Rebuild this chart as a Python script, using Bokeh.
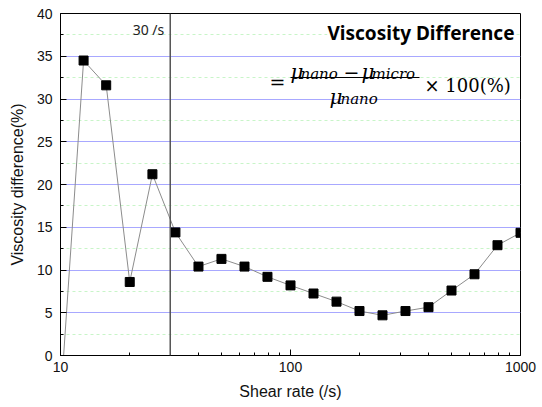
from bokeh.plotting import figure
from bokeh.models import FixedTicker, Span, Label, PrintfTickFormatter
from bokeh.embed import file_html
from bokeh.resources import INLINE

# ---- data ----
shear_rate = [10.0, 12.6, 15.8, 20.0, 25.1, 31.6, 39.8, 50.1, 63.1, 79.4, 100.0,
              125.9, 158.5, 199.5, 251.2, 316.2, 398.1, 501.2, 631.0, 794.3, 1000.0]
viscosity_diff = [-5.4, 34.5, 31.6, 8.6, 21.2, 14.4, 10.4, 11.3, 10.4, 9.2, 8.2,
                  7.25, 6.3, 5.2, 4.7, 5.2, 5.65, 7.6, 9.5, 12.9, 14.35]
x_major_ticks = [10, 100, 1000]
x_minor_ticks = [20, 30, 40, 50, 60, 70, 80, 90, 200, 300, 400, 500, 600, 700, 800, 900]
y_major_ticks = [0, 5, 10, 15, 20, 25, 30, 35, 40]
y_minor_ticks = [2.5, 7.5, 12.5, 17.5, 22.5, 27.5, 32.5, 37.5]
marker_rate = 30

p = figure(x_axis_type="log", x_range=(10, 1000), y_range=(0, 40),
           frame_width=460, frame_height=342,
           min_border_left=60, min_border_right=22, min_border_top=13, min_border_bottom=52,
           output_backend="svg", toolbar_location=None)
p.background_fill_color = "white"
p.border_fill_color = "white"
p.outline_line_color = "black"
p.outline_line_width = 1
p.outline_line_alpha = 1

# grids
p.xgrid.visible = False
p.ygrid.ticker = FixedTicker(ticks=y_major_ticks, minor_ticks=y_minor_ticks)
p.ygrid.grid_line_color = "#a8a8ff"
p.ygrid.grid_line_width = 1
p.ygrid.minor_grid_line_color = "#c8f5c8"
p.ygrid.minor_grid_line_dash = "3 3"
p.ygrid.minor_grid_line_width = 1

# axes
xa = p.xaxis[0]
xa.ticker = FixedTicker(ticks=x_major_ticks, minor_ticks=x_minor_ticks)
xa.formatter = PrintfTickFormatter(format="%d")
ya = p.yaxis[0]
ya.ticker = FixedTicker(ticks=y_major_ticks, minor_ticks=y_minor_ticks)
for ax in (xa, ya):
    ax.axis_line_color = "black"
    ax.major_tick_line_color = "black"
    ax.minor_tick_line_color = "black"
    ax.major_tick_in = 6
    ax.major_tick_out = 0
    ax.minor_tick_in = 3
    ax.minor_tick_out = 0
    ax.major_label_text_font = "Liberation Sans"
    ax.major_label_text_font_size = "14px"
    ax.major_label_text_color = "#111111"
    ax.axis_label_text_font = "Liberation Sans"
    ax.axis_label_text_font_size = "16px"
    ax.axis_label_text_font_style = "normal"
    ax.axis_label_text_color = "#111111"
xa.axis_label = "Shear rate (/s)"
ya.axis_label = "Viscosity difference(%)"
xa.major_label_standoff = 6
xa.axis_label_standoff = 8
ya.major_label_standoff = 8
ya.axis_label_standoff = 8

# series
p.line(shear_rate, viscosity_diff, line_color="#8c8c8c", line_width=1)
p.scatter(shear_rate, viscosity_diff, marker="square", size=9,
          fill_color="black", line_color="black")

# 30 /s reference line
p.add_layout(Span(location=marker_rate, dimension="height",
                  line_color="#555555", line_width=1.5))


def sx2x(sx):
    return 10 ** (1 + (sx - 60) / 230)


def sy2y(sy):
    return (355 - sy) / 8.55


p.add_layout(Label(x=marker_rate, y=sy2y(29), x_offset=-6, text="30 /s",
                   text_align="right", text_baseline="middle",
                   text_font="Noto Sans", text_font_size="14px", text_color="#222222"))

p.add_layout(Label(x=sx2x(514), y=sy2y(32), text="Viscosity Difference",
                   text_align="right", text_baseline="middle",
                   text_font="Noto Sans", text_font_style="bold", text_font_size="19px",
                   text_color="black", background_fill_color="white"))

mf = "DejaVu Serif"


def math_label(sx, sy, txt, size, italic=True, align="left"):
    p.add_layout(Label(x=sx2x(sx), y=sy2y(sy), text=txt, text_align=align,
                       text_baseline="alphabetic", text_font=mf,
                       text_font_style="italic" if italic else "normal",
                       text_font_size=size, text_color="black"))


math_label(277, 81, "=", "19px", italic=False, align="center")
math_label(290, 71, "\u03bc", "20px")
math_label(300, 73.5, "nano", "15px")
math_label(351, 71, "\u2212", "19px", italic=False, align="center")
math_label(361, 71, "\u03bc", "20px")
math_label(371, 73.5, "micro", "15px")
math_label(329, 96, "\u03bc", "20px")
math_label(340, 98.5, "nano", "15px")
math_label(424, 85, "\u00d7 100(%)", "18px", italic=False)
p.segment(x0=[sx2x(290)], y0=[sy2y(77)], x1=[sx2x(419)], y1=[sy2y(77)],
          line_color="black", line_width=1.2)

open("out.html", "w").write(file_html(p, INLINE))
